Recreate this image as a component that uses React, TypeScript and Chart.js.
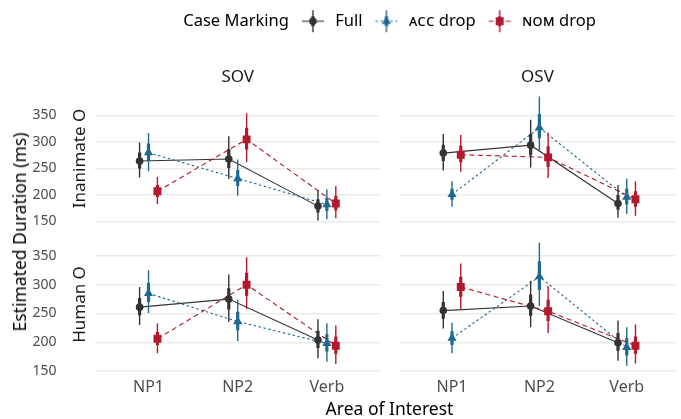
import React, { useEffect, useRef } from 'react';
import { Chart, registerables } from 'chart.js';

Chart.register(...registerables);
Chart.defaults.font.family = "'Noto Sans', 'DejaVu Sans', sans-serif";

// ---------------- data ----------------
const categories = ['NP1', 'NP2', 'Verb'];
const wordOrders = ['SOV', 'OSV'];
const animacyLevels = ['Inanimate O', 'Human O'];
const yTicks = [150, 200, 250, 300, 350];
const legendTitle = 'Case Marking';
const seriesNames = ['Full', 'ᴀᴄᴄ drop', 'ɴᴏᴍ drop'];
const xTitle = 'Area of Interest';
const yTitle = 'Estimated Duration (ms)';

// panels: [SOV-Inanimate, OSV-Inanimate, SOV-Human, OSV-Human]; values per category
const fullMean = [[264, 268, 179], [279, 294, 184], [261, 275, 204], [255, 263, 199]];
const fullLo95 = [[233, 230, 152], [246, 252, 157], [230, 235, 172], [224, 226, 168]];
const fullHi95 = [[299, 311, 209], [315, 342, 219], [296, 318, 240], [289, 307, 238]];
const fullLo66 = [[250, 251, 167], [264, 275, 172], [247, 257, 190], [241, 246, 185]];
const fullHi66 = [[280, 287, 192], [295, 315, 200], [277, 294, 220], [270, 283, 216]];

const accMean = [[280, 231, 182], [201, 327, 196], [285, 236, 198], [207, 314, 191]];
const accLo95 = [[245, 199, 154], [178, 282, 164], [251, 202, 166], [181, 263, 159]];
const accHi95 = [[317, 267, 211], [226, 386, 231], [325, 274, 233], [234, 373, 226]];
const accLo66 = [[264, 217, 170], [191, 307, 182], [270, 221, 184], [195, 291, 177]];
const accHi66 = [[297, 247, 195], [212, 353, 212], [303, 253, 214], [219, 341, 207]];

const nomMean = [[207, 305, 184], [276, 271, 192], [206, 300, 194], [296, 254, 194]];
const nomLo95 = [[183, 262, 156], [244, 232, 161], [181, 258, 162], [258, 216, 163]];
const nomHi95 = [[234, 354, 217], [313, 318, 226], [233, 348, 229], [337, 298, 231]];
const nomLo66 = [[196, 286, 171], [262, 253, 178], [195, 281, 180], [279, 237, 180]];
const nomHi66 = [[219, 327, 198], [293, 292, 207], [218, 321, 210], [314, 274, 210]];

const means = [fullMean, accMean, nomMean];
const lo95 = [fullLo95, accLo95, nomLo95];
const hi95 = [fullHi95, accHi95, nomHi95];
const lo66 = [fullLo66, accLo66, nomLo66];
const hi66 = [fullHi66, accHi66, nomHi66];

// ---------------- styles / layout ----------------
const DODGE = [-0.1, 0, 0.1];
const STYLES = [
  { color: '#333333', dash: [] as number[], shape: 'circle', radius: 3.8 },
  { color: '#1f6a8f', dash: [2.5, 2.5], shape: 'triangle', radius: 5.3 },
  { color: '#b3182d', dash: [5, 3.5], shape: 'rect', radius: 5.6 },
];
const ROW_LIMITS = [
  { min: 139.6, max: 398.1 },
  { min: 148.26, max: 383.0 },
];
const BOXES = [
  { left: 30, top: 60, width: 356, height: 179 },
  { left: 394, top: 60, width: 287, height: 179 },
  { left: 30, top: 225, width: 356, height: 177 },
  { left: 394, top: 225, width: 287, height: 177 },
];
const GRID = '#ebebeb';
const TICK_COLOR = '#4d4d4d';
const TEXT_COLOR = '#1a1a1a';

function panelConfig(row: number, col: number): any {
  const p = row * 2 + col;
  const isLeft = col === 0;
  const isBottom = row === 1;
  const lim = ROW_LIMITS[row];
  const ds: any[] = [];
  // connecting lines
  for (let s = 0; s < 3; s++) {
    ds.push({
      data: categories.map((_, i) => ({ x: i + 1 + DODGE[s], y: means[s][p][i] })),
      borderColor: STYLES[s].color,
      borderWidth: 1.1,
      borderDash: STYLES[s].dash,
      pointRadius: 0,
      fill: false,
      tension: 0,
    });
  }
  for (let s = 0; s < 3; s++) {
    const st = STYLES[s];
    ds.push({
      data: categories.flatMap((_, i) => [
        { x: i + 1 + DODGE[s], y: lo95[s][p][i] },
        { x: i + 1 + DODGE[s], y: hi95[s][p][i] },
        { x: i + 1 + DODGE[s], y: null },
      ]),
      borderColor: st.color,
      borderWidth: 1.4,
      pointRadius: 0,
      fill: false,
      spanGaps: false,
    });
    ds.push({
      data: categories.flatMap((_, i) => [
        { x: i + 1 + DODGE[s], y: lo66[s][p][i] },
        { x: i + 1 + DODGE[s], y: hi66[s][p][i] },
        { x: i + 1 + DODGE[s], y: null },
      ]),
      borderColor: st.color,
      borderWidth: 3.2,
      pointRadius: 0,
      fill: false,
      spanGaps: false,
    });
    ds.push({
      data: categories.map((_, i) => ({ x: i + 1 + DODGE[s], y: means[s][p][i] })),
      showLine: false,
      pointStyle: st.shape,
      pointRadius: st.radius,
      pointBackgroundColor: st.color,
      pointBorderColor: st.color,
      pointBorderWidth: 0,
    });
  }
  const N = ds.length;
  ds.forEach((d, i) => { d.order = N - i; });

  const yBase = {
    type: 'linear',
    min: lim.min,
    max: lim.max,
    afterBuildTicks: (s: any) => { s.ticks = yTicks.map((v) => ({ value: v })); },
  };
  const scales: any = {
    x: {
      type: 'linear',
      min: 0.4,
      max: isLeft ? 3.6 : 3.557,
      display: isBottom,
      grid: { display: false, drawTicks: false },
      border: { display: false },
      afterBuildTicks: (s: any) => { s.ticks = categories.map((_, i) => ({ value: i + 1 })); },
      ticks: {
        callback: (v: any) => categories[Math.round(v) - 1],
        font: { size: 16 },
        color: TICK_COLOR,
        padding: 6,
        maxRotation: 0,
        autoSkip: false,
      },
      afterFit: (s: any) => { s.height = isBottom ? 30 : 0; },
    },
    y: {
      ...yBase,
      position: 'left',
      weight: 0,
      ticks: { display: false },
      grid: { color: GRID, lineWidth: 1.4, drawTicks: false },
      border: { display: false },
      title: {
        display: isLeft,
        text: animacyLevels[row],
        font: { size: 17 },
        color: TEXT_COLOR,
        padding: { top: 12, bottom: 0 },
      },
      afterFit: (s: any) => { s.width = isLeft ? 37 : 0; },
    },
  };
  if (isLeft) {
    scales.yt = {
      ...yBase,
      position: 'left',
      weight: 1,
      ticks: { display: true, font: { size: 14 }, color: TICK_COLOR, padding: 1.5, callback: (v: any) => String(v) },
      grid: { display: false, drawTicks: false },
      border: { display: false },
      afterFit: (s: any) => { s.width = 28; },
    };
  }
  return {
    type: 'line',
    data: { datasets: ds },
    options: {
      responsive: false,
      animation: false,
      events: [],
      layout: { padding: { top: isBottom ? 12 : 0, bottom: isBottom ? 0 : 12, left: 0, right: 0 } },
      scales,
      plugins: {
        legend: { display: false },
        tooltip: { enabled: false },
        title: {
          display: !isBottom,
          text: wordOrders[col],
          fullSize: false,
          font: { size: 17, weight: 'normal' },
          color: TEXT_COLOR,
          padding: { top: 6.5, bottom: 3.1 },
        },
      },
    },
  };
}

function makeKey(s: number): HTMLCanvasElement {
  const c = document.createElement('canvas');
  c.width = 30;
  c.height = 24;
  if (s < 0) return c;
  const g = c.getContext('2d')!;
  const st = STYLES[s];
  const cx = 16, cy = 12;
  g.strokeStyle = st.color;
  g.fillStyle = st.color;
  g.lineWidth = 1.1;
  g.setLineDash(st.dash);
  g.beginPath(); g.moveTo(5, cy); g.lineTo(27, cy); g.stroke();
  g.setLineDash([]);
  g.lineWidth = 1.4;
  g.beginPath(); g.moveTo(cx, 1); g.lineTo(cx, 23); g.stroke();
  g.lineWidth = 3.2;
  g.beginPath(); g.moveTo(cx, 7); g.lineTo(cx, 17); g.stroke();
  g.beginPath();
  if (st.shape === 'circle') {
    g.arc(cx, cy, st.radius, 0, Math.PI * 2);
  } else if (st.shape === 'triangle') {
    const r = st.radius;
    for (let k = 0; k < 3; k++) {
      const a = (k * 2 * Math.PI) / 3;
      const px = cx + Math.sin(a) * r, py = cy - Math.cos(a) * r;
      if (k === 0) g.moveTo(px, py); else g.lineTo(px, py);
    }
    g.closePath();
  } else {
    const h = st.radius * Math.SQRT1_2;
    g.rect(cx - h, cy - h, 2 * h, 2 * h);
  }
  g.fill();
  return c;
}

function legendConfig(): any {
  return {
    type: 'line',
    data: { datasets: [] },
    options: {
      responsive: false,
      animation: false,
      events: [],
      layout: { padding: { top: 5, left: 0, right: 0, bottom: 0 } },
      scales: { x: { display: false }, y: { display: false } },
      plugins: {
        tooltip: { enabled: false },
        legend: {
          display: true,
          position: 'top',
          align: 'start',
          labels: {
            usePointStyle: true,
            pointStyleWidth: 30,
            padding: 8,
            font: { size: 16.5 },
            color: '#000000',
            generateLabels: () => [
              { text: legendTitle, pointStyle: makeKey(-1), fillStyle: 'rgba(0,0,0,0)', strokeStyle: 'rgba(0,0,0,0)', lineWidth: 0, hidden: false },
              ...seriesNames.map((name, s) => ({
                text: name,
                pointStyle: makeKey(s),
                fillStyle: STYLES[s].color,
                strokeStyle: STYLES[s].color,
                lineWidth: 0,
                hidden: false,
                datasetIndex: s,
              })),
            ],
          },
        },
      },
    },
  };
}

export default function App() {
  const refs = [useRef<HTMLCanvasElement>(null), useRef<HTMLCanvasElement>(null), useRef<HTMLCanvasElement>(null), useRef<HTMLCanvasElement>(null)];
  const legendRef = useRef<HTMLCanvasElement>(null);

  useEffect(() => {
    const charts: Chart[] = [];
    for (let row = 0; row < 2; row++) {
      for (let col = 0; col < 2; col++) {
        const c = refs[row * 2 + col].current;
        if (c) charts.push(new Chart(c, panelConfig(row, col)));
      }
    }
    if (legendRef.current) charts.push(new Chart(legendRef.current, legendConfig()));
    return () => charts.forEach((ch) => ch.destroy());
  }, []);

  return (
    <div style={{ position: 'fixed', left: 0, top: 0, width: 681, height: 419, background: '#ffffff', overflow: 'hidden', fontFamily: "'Noto Sans', sans-serif" }}>
      <canvas ref={legendRef} width={544} height={100} style={{ position: 'absolute', left: 137, top: 0 }} />
      {BOXES.map((b, i) => (
        <canvas key={i} ref={refs[i]} width={b.width} height={b.height} style={{ position: 'absolute', left: b.left, top: b.top }} />
      ))}
      <div style={{ position: 'absolute', left: 389.5, top: 407.5, transform: 'translate(-50%, -50%)', fontSize: 17.5, whiteSpace: 'nowrap', color: '#000', lineHeight: 'normal' }}>{xTitle}</div>
      <div style={{ position: 'absolute', left: 19, top: 232, transform: 'translate(-50%, -50%) rotate(-90deg)', fontSize: 17.5, whiteSpace: 'nowrap', color: '#000', lineHeight: 'normal' }}>{yTitle}</div>
    </div>
  );
}
